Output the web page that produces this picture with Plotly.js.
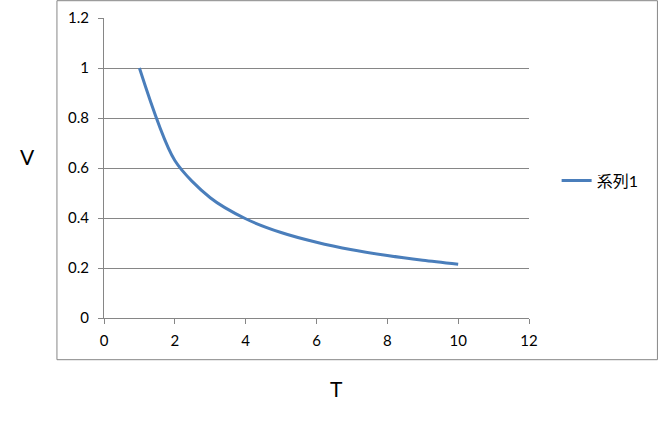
<!DOCTYPE html>
<html>
<head>
<meta charset="utf-8">
<script src="https://cdn.plot.ly/plotly-3.0.1.min.js"></script>
<style>html,body{margin:0;padding:0;background:#fff;}#chart{width:658px;height:425px;}</style>
</head>
<body>
<div id="chart"></div>
<script>
const T = [1, 2, 3, 4, 5, 6, 7, 8, 9, 10];
const V = [1, 0.63, 0.481, 0.397, 0.342, 0.303, 0.273, 0.25, 0.231, 0.215];
const seriesName = "系列1";
const xTicks = [0, 2, 4, 6, 8, 10, 12];
const yTicks = [0, 0.2, 0.4, 0.6, 0.8, 1, 1.2];
const yTickText = ["0", "0.2", "0.4", "0.6", "0.8", "1", "1.2"];

const fontFam = 'Lato, "Noto Sans CJK JP", sans-serif';
const grid = '#868686';

const trace = {
  x: T, y: V, name: seriesName, type: 'scatter', mode: 'lines',
  line: {color: '#4A7EBB', width: 3, shape: 'spline', smoothing: 0.8}
};

const layout = {
  width: 658, height: 425,
  margin: {l: 104, r: 129.3, t: 18.3, b: 106.7},
  paper_bgcolor: '#fff', plot_bgcolor: '#fff',
  font: {family: fontFam, size: 15, color: '#000'},
  showlegend: true,
  legend: {x: 1.065, y: 0.458, xanchor: 'left', yanchor: 'middle',
           font: {family: fontFam, size: 16, color: '#000'}, bgcolor: 'rgba(0,0,0,0)'},
  xaxis: {range: [0, 12], tickvals: xTicks, ticktext: xTicks.map(String),
          showgrid: false, zeroline: false, showline: true, linecolor: grid, linewidth: 1,
          ticks: 'outside', ticklen: 5, tickcolor: grid, ticklabelstandoff: 4,
          tickfont: {family: fontFam, size: 15, color: '#000'}, fixedrange: true},
  yaxis: {range: [0, 1.2], tickvals: yTicks, ticktext: yTickText,
          showgrid: true, gridcolor: grid, gridwidth: 1, zeroline: false,
          showline: true, linecolor: grid, linewidth: 1,
          ticks: 'outside', ticklen: 5, tickcolor: grid, ticklabelstandoff: 6,
          tickfont: {family: fontFam, size: 15, color: '#000'}, fixedrange: true},
  shapes: [{type: 'rect', xref: 'paper', yref: 'paper',
            x0: -0.1107, x1: 1.3022, y0: -0.139, y1: 1.0577,
            line: {color: grid, width: 1}, fillcolor: 'rgba(0,0,0,0)', layer: 'below'}],
  annotations: [
    {text: 'V', xref: 'paper', yref: 'paper', x: -0.181, y: 0.538,
     xanchor: 'center', yanchor: 'middle', showarrow: false,
     font: {family: fontFam, size: 21, color: '#000'}},
    {text: 'T', xref: 'paper', yref: 'paper', x: 0.546, y: -0.236,
     xanchor: 'center', yanchor: 'middle', showarrow: false,
     font: {family: fontFam, size: 21, color: '#000'}}
  ]
};

Plotly.newPlot('chart', [trace], layout, {displayModeBar: false, staticPlot: true});
</script>
</body>
</html>
